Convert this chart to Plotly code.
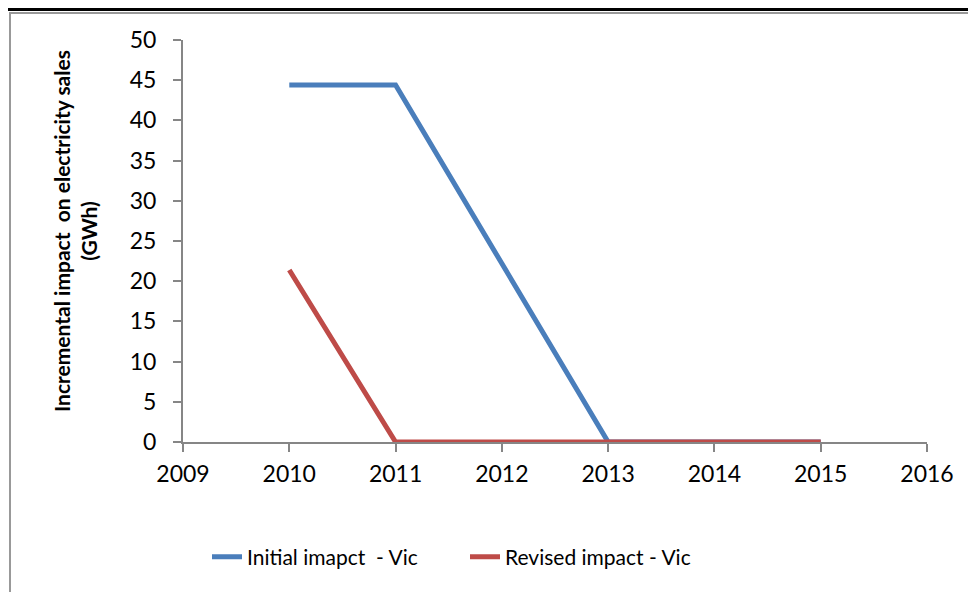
import plotly.graph_objects as go

years = [2010, 2011, 2012, 2013, 2014, 2015]
initial_vic = [44.4, 44.4, 22.2, 0, 0, 0]
revised_vic = [21.4, 0, 0, 0, 0, 0]
x_ticks = [2009, 2010, 2011, 2012, 2013, 2014, 2015, 2016]
y_ticks = [0, 5, 10, 15, 20, 25, 30, 35, 40, 45, 50]

FONT = "Lato"
OFF = 8  # page body margin
L, R, T, B = 183 - OFF, 927 - OFF, 40 - OFF, 442 - OFF
W, H = R - L, B - T

def px(x):
    return (x - OFF - L) / W

def py(y):
    return (B - (y - OFF)) / H

fig = go.Figure()
fig.add_trace(go.Scatter(x=years, y=initial_vic, mode="lines", name="Initial imapct  - Vic",
                         line=dict(color="#4A7EBB", width=5)))
fig.add_trace(go.Scatter(x=years, y=revised_vic, mode="lines", name="Revised impact - Vic",
                         line=dict(color="#BE4B48", width=5)))

axis_col = "#868686"
fig.update_layout(
    width=976, height=592,
    margin=dict(l=L, r=976 - R, t=T, b=592 - B),
    paper_bgcolor="white", plot_bgcolor="white",
    font=dict(family=FONT, size=21, color="black"),
    showlegend=True,
    legend=dict(orientation="h", x=px(465), xanchor="center", y=py(557), yanchor="middle",
                font=dict(size=21), entrywidth=213, entrywidthmode="pixels",
                tracegroupgap=0),
    xaxis=dict(range=[2009, 2016], tickvals=x_ticks, showgrid=False, zeroline=False,
               showline=True, linecolor=axis_col, linewidth=2, ticks="outside",
               ticklen=8, tickwidth=2, tickcolor=axis_col, tickfont=dict(size=23),
               ticklabelstandoff=2),
    yaxis=dict(range=[0, 50], tickvals=y_ticks, showgrid=False, zeroline=False,
               showline=True, linecolor=axis_col, linewidth=2, ticks="outside",
               ticklen=8, tickwidth=2, tickcolor=axis_col, tickfont=dict(size=23),
               ticklabelstandoff=12),
    shapes=[
        dict(type="line", xref="paper", yref="paper", x0=-0.3, x1=1.1, y0=py(9.5), y1=py(9.5),
             line=dict(color="black", width=3)),
        dict(type="rect", xref="paper", yref="paper", x0=px(10), x1=1.2, y0=-0.6, y1=py(13),
             line=dict(color="#999999", width=2), layer="below"),
    ],
    annotations=[
        dict(text="<b>Incremental impact  on electricity sales<br>(GWh)</b>", textangle=-90,
             xref="paper", yref="paper", x=px(75), y=py(231),
             xanchor="center", yanchor="middle", showarrow=False,
             font=dict(family=FONT, size=21, color="black")),
    ],
)
fig.write_html("out.html")
